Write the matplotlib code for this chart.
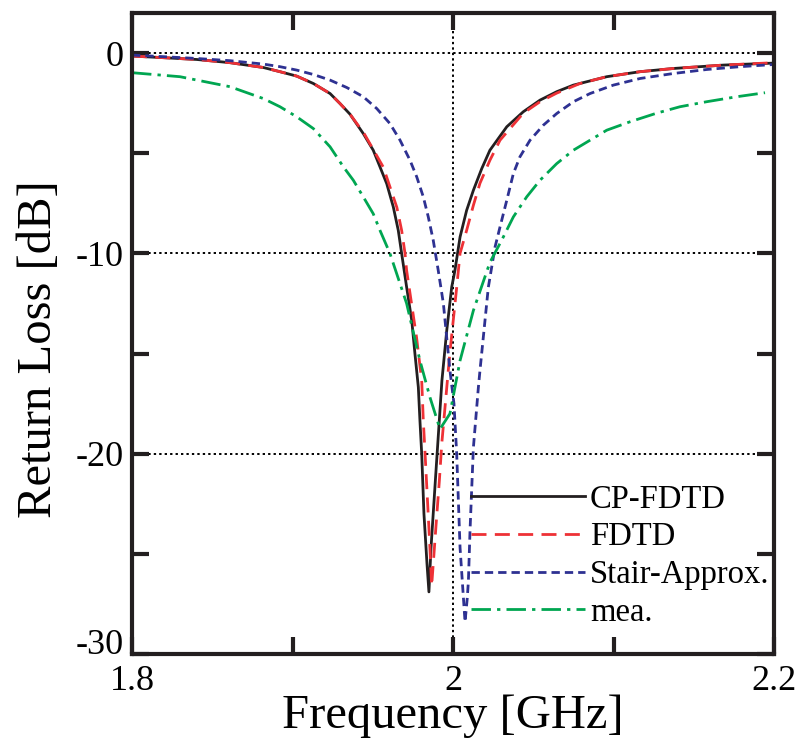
from matplotlib import pyplot as plt
import numpy as np

plt.rcParams['font.family'] = ['Liberation Serif', 'DejaVu Serif']
plt.rcParams['axes.unicode_minus'] = False

# ---- data (frequency [GHz], return loss [dB]) ----
FreqCP = [1.800, 1.8195, 1.8403, 1.8611, 1.8818, 1.8922, 1.9026, 1.913, 1.9234, 1.9296,
          1.9358, 1.9441, 1.9503, 1.9545, 1.9587, 1.9628, 1.9659, 1.968, 1.9711, 1.9743,
          1.9763, 1.9784, 1.9794, 1.9805, 1.9819, 1.9838, 1.985, 1.9863, 1.989, 1.9931,
          1.9961, 1.9992, 2.0012, 2.0044, 2.0085, 2.0127, 2.0179, 2.023, 2.0335, 2.0438,
          2.0542, 2.0646, 2.075, 2.0958, 2.1165, 2.1373, 2.1684, 2.200]
RLCP = [-0.15, -0.23, -0.32, -0.48, -0.72, -0.93, -1.15, -1.52, -2.02, -2.52,
        -3.05, -4.02, -4.85, -5.68, -6.52, -7.68, -8.85, -10.0, -11.68, -13.35,
        -15.02, -16.68, -18.35, -20.0, -23.0, -25.5, -26.9, -24.7, -21.35, -16.35,
        -13.85, -11.68, -10.85, -9.18, -7.85, -6.85, -5.77, -4.85, -3.68, -2.93,
        -2.35, -1.93, -1.6, -1.18, -0.93, -0.77, -0.6, -0.5]

FreqFD = [1.800, 1.8195, 1.8403, 1.8611, 1.8818, 1.8922, 1.9026, 1.913, 1.9234, 1.9296,
          1.9358, 1.9445, 1.9566, 1.965, 1.968, 1.9701, 1.9711, 1.9773, 1.9805, 1.9815,
          1.9826, 1.9855, 1.9867, 1.9895, 1.9915, 1.993, 1.998, 2.0023, 2.0044, 2.0085,
          2.0127, 2.0168, 2.023, 2.0293, 2.0438, 2.0542, 2.0646, 2.0791, 2.0958, 2.1165,
          2.1373, 2.1684, 2.200]
RLFD = [-0.15, -0.23, -0.32, -0.48, -0.72, -0.93, -1.15, -1.52, -2.02, -2.52,
        -3.05, -4.0, -5.7, -7.7, -8.85, -10.0, -10.85, -14.2, -16.35, -18.35,
        -20.0, -24.5, -26.6, -23.5, -21.35, -19.5, -15.0, -11.7, -10.0, -8.85,
        -7.6, -6.5, -5.35, -4.35, -3.0, -2.43, -2.0, -1.52, -1.18, -0.93,
        -0.77, -0.6, -0.48]

FreqSA = [1.800, 1.8195, 1.8403, 1.8611, 1.8818, 1.8922, 1.9026, 1.913, 1.9234, 1.9338,
          1.9441, 1.9525, 1.9607, 1.967, 1.9732, 1.9774, 1.9815, 1.9846, 1.9877, 1.9908,
          1.994, 1.9981, 2.0006, 2.0023, 2.0044, 2.0075, 2.0089, 2.0096, 2.0106, 2.0127,
          2.0158, 2.0168, 2.022, 2.0262, 2.0293, 2.0335, 2.0376, 2.0417, 2.048, 2.0563,
          2.0646, 2.075, 2.0854, 2.0999, 2.1165, 2.1373, 2.1581, 2.1788, 2.200]
RLSA = [-0.1, -0.18, -0.27, -0.38, -0.55, -0.68, -0.85, -1.07, -1.35, -1.72,
        -2.18, -2.77, -3.52, -4.35, -5.35, -6.18, -7.18, -8.18, -9.35, -10.85,
        -12.5, -15.85, -17.5, -20.0, -24.7, -28.4, -27.2, -26.35, -23.85, -19.7,
        -16.7, -15.85, -11.7, -9.68, -8.68, -7.35, -6.02, -5.18, -4.35, -3.6,
        -3.02, -2.43, -2.02, -1.6, -1.27, -1.02, -0.82, -0.68, -0.57]

FreqMea = [1.800, 1.8299, 1.8611, 1.8818, 1.8922, 1.9026, 1.913, 1.9234, 1.9317, 1.9379,
           1.9441, 1.9503, 1.9545, 1.9607, 1.9711, 1.9794, 1.9857, 1.9919, 1.9981, 2.0044,
           2.0127, 2.023, 2.0303, 2.0376, 2.0459, 2.0542, 2.0646, 2.075, 2.0854, 2.0958,
           2.1103, 2.1269, 2.1414, 2.158, 2.1768, 2.1944]
RLMea = [-0.98, -1.18, -1.68, -2.27, -2.68, -3.18, -3.77, -4.68, -5.68, -6.35,
         -7.18, -8.02, -8.85, -10.0, -12.5, -15.35, -17.2, -18.77, -18.0, -15.35,
         -12.85, -10.45, -9.35, -8.18, -7.18, -6.35, -5.52, -4.85, -4.35, -3.85,
         -3.43, -3.0, -2.68, -2.43, -2.18, -1.98]

Labels = ['CP-FDTD', 'FDTD', 'Stair-Approx.', 'mea.']

fig = plt.figure(figsize=(8, 7.43), dpi=100)
ax1 = fig.add_axes([0.165, 0.1198, 0.8025, 0.8627])

ax1.plot(FreqCP, RLCP, color='#231f20', lw=2.0, label=Labels[0])
ax1.plot(FreqFD, RLFD, color='#ee3136', lw=2.0, dashes=(5.4, 3.0), label=Labels[1])
ax1.plot(FreqSA, RLSA, color='#2e3192', lw=2.0, dashes=(3.0, 1.8), label=Labels[2])
ax1.plot(FreqMea, RLMea, color='#00a651', lw=2.0, dashes=(7, 2.2, 1.2, 2.2), label=Labels[3])

ax1.set_xlim(1.8, 2.2)
ax1.set_ylim(-30, 2)
ax1.set_xticks([1.8, 2.0, 2.2])
ax1.set_xticklabels(['1.8', '2', '2.2'])
ax1.set_xticks([1.9, 2.1], minor=True)
ax1.set_yticks([-30, -20, -10, 0])
ax1.set_yticks([-25, -15, -5], minor=True)

ax1.grid(True, which='major', color='black', lw=1.4, linestyle=(0, (1.2, 1.6)))
ax1.tick_params(which='both', direction='in', top=True, right=True,
                length=12, width=3, color='#231f20')
ax1.tick_params(axis='x', which='major', labelsize=26, pad=8)
ax1.tick_params(axis='y', which='major', labelsize=26, pad=6)
for s in ax1.spines.values():
    s.set_linewidth(3)
    s.set_color('#231f20')

ax1.yaxis.get_major_ticks()[0].label1.set_va('baseline')

ax1.set_xlabel('Frequency [GHz]', fontsize=35)
ax1.set_ylabel('Return Loss [dB]', fontsize=35)
ax1.xaxis.set_label_coords(0.5, -0.063)
ax1.yaxis.set_label_coords(-0.111, 0.476)

ax1.legend(loc='upper left', bbox_to_anchor=(0.528, 0.265), frameon=False,
           fontsize=23.5, handlelength=3.5, handletextpad=0.15,
           labelspacing=0.22, borderpad=0, borderaxespad=0)

fig.savefig('out.png', dpi=100)
